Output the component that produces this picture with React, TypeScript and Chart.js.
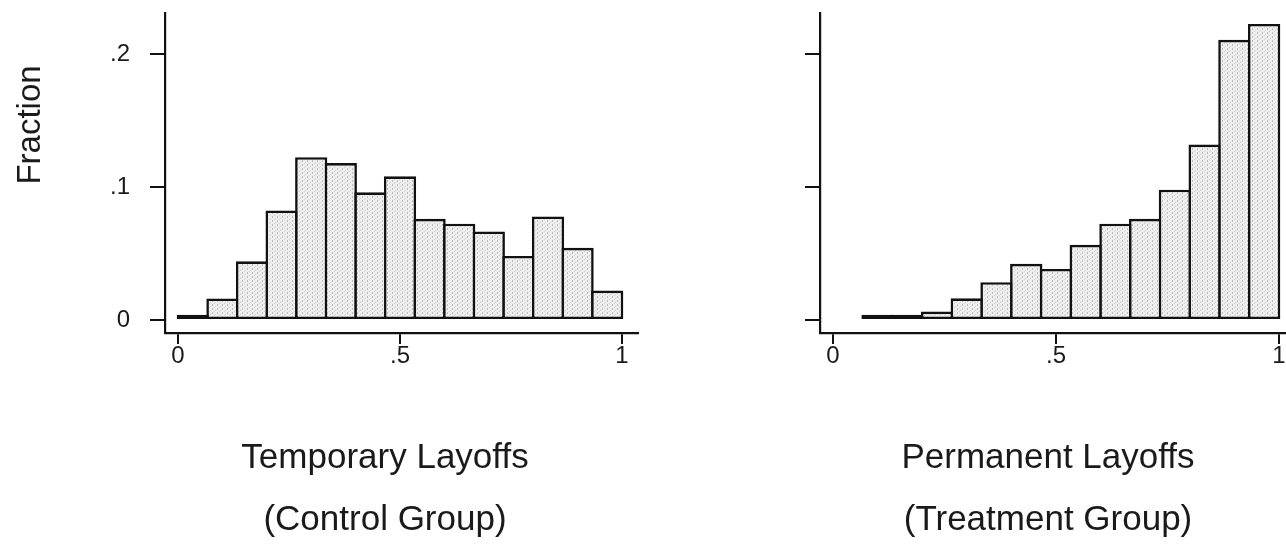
import React, { useEffect, useRef } from 'react';
import { Chart, registerables } from 'chart.js';

Chart.register(...registerables);

// ---- data ----
const binWidth = 1 / 15;
const binStarts = [0, 1 / 15, 2 / 15, 3 / 15, 4 / 15, 5 / 15, 6 / 15, 7 / 15, 8 / 15, 9 / 15, 10 / 15, 11 / 15, 12 / 15, 13 / 15, 14 / 15];
const temporaryFractions = [0.004, 0.0162, 0.0441, 0.0824, 0.1224, 0.118, 0.096, 0.108, 0.0761, 0.0724, 0.0666, 0.0482, 0.0779, 0.0543, 0.0221];
const permanentFractions = [null, 0.004, 0.004, 0.0063, 0.0163, 0.0284, 0.0422, 0.0384, 0.0565, 0.0724, 0.0761, 0.098, 0.1319, 0.2106, 0.2226];
const xTickValues = [0, 0.5, 1];
const yTickValues = [0, 0.1, 0.2];
const yAxisTitle = 'Fraction';
const leftTitle = ['Temporary Layoffs', '(Control Group)'];
const rightTitle = ['Permanent Layoffs', '(Treatment Group)'];

const TICK_FONT = '"Liberation Sans Narrow", "Arial Narrow", "Liberation Sans", Arial, sans-serif';
const TITLE_FONT = '"Liberation Sans", Arial, Helvetica, sans-serif';
const INK = '#111';
const TEXT = '#1a1a1a';

function formatTick(v: number): string {
  if (v === 0) return '0';
  if (v === 1) return '1';
  return String(Math.round(v * 100) / 100).replace(/^0\./, '.');
}

function makePattern(): CanvasPattern | string {
  const tile = document.createElement('canvas');
  tile.width = 5;
  tile.height = 4;
  const t = tile.getContext('2d');
  if (!t) return '#e6e6e6';
  t.fillStyle = '#eeeeee';
  t.fillRect(0, 0, 5, 4);
  t.fillStyle = '#bdbdbd';
  t.fillRect(2, 0, 1, 2);
  t.fillStyle = '#d4d4d4';
  t.fillRect(0, 2, 1, 1);
  t.fillRect(4, 3, 1, 1);
  const p = t.createPattern(tile, 'repeat');
  return p || '#e6e6e6';
}

const fractionLabel = {
  id: 'fractionLabel',
  afterDraw(chart: any, _args: any, opts: any) {
    if (!opts || !opts.show) return;
    const ctx = chart.ctx;
    ctx.save();
    ctx.translate(31, 125);
    ctx.rotate(-Math.PI / 2);
    ctx.font = `33px ${TITLE_FONT}`;
    ctx.fillStyle = TEXT;
    ctx.textAlign = 'center';
    ctx.textBaseline = 'middle';
    ctx.fillText(yAxisTitle, 0, 0);
    ctx.restore();
  },
};

interface PanelOpts {
  values: (number | null)[];
  title: string[];
  showYLabels: boolean;
  yAxisWidth: number;
  rightPad: number;
  xMin: number;
  xMax: number;
  pattern: CanvasPattern | string;
}

function buildConfig(p: PanelOpts): any {
  const points = binStarts
    .map((s, i) => ({ x: s + binWidth / 2, y: p.values[i] }))
    .filter((d) => d.y !== null && d.y !== undefined);
  return {
    type: 'bar',
    data: {
      datasets: [
        {
          data: points,
          xAxisID: 'x',
          yAxisID: 'y',
          backgroundColor: p.pattern,
          borderColor: INK,
          borderWidth: 2.6,
          borderSkipped: false,
          barPercentage: 1.088,
          categoryPercentage: 1,
        },
      ],
    },
    plugins: [fractionLabel],
    options: {
      animation: false,
      responsive: false,
      events: [],
      layout: { padding: { top: 13, left: 0, right: 0, bottom: 0 } },
      plugins: {
        legend: { display: false },
        tooltip: { enabled: false },
        fractionLabel: { show: p.showYLabels },
        title: {
          display: true,
          position: 'bottom',
          align: 'center',
          text: p.title,
          color: TEXT,
          font: { family: TITLE_FONT, size: 35, weight: 'normal', lineHeight: 62 / 35 },
          padding: { top: 0, bottom: 49 },
        },
      },
      scales: {
        x: {
          type: 'linear',
          position: 'bottom',
          min: p.xMin,
          max: p.xMax,
          offset: false,
          grid: {
            display: true,
            offset: false,
            drawOnChartArea: false,
            drawTicks: true,
            tickLength: 11,
            color: INK,
            lineWidth: 2,
          },
          border: { display: true, color: INK, width: 2.2 },
          ticks: {
            color: TEXT,
            padding: 0,
            maxRotation: 0,
            autoSkip: false,
            font: { family: TICK_FONT, size: 24, lineHeight: 1 },
            callback: (v: any) => formatTick(Number(v)),
          },
          afterBuildTicks: (s: any) => {
            s.ticks = xTickValues.map((value) => ({ value }));
          },
          afterFit: (s: any) => {
            s.height = 94;
            s.paddingLeft = 0;
            s.paddingRight = 0;
          },
        },
        y: {
          type: 'linear',
          position: 'left',
          min: -0.00977,
          max: 0.2308,
          grid: {
            display: true,
            drawOnChartArea: false,
            drawTicks: true,
            tickLength: 15,
            color: INK,
            lineWidth: 2,
          },
          border: { display: true, color: INK, width: 2.2 },
          ticks: {
            display: p.showYLabels,
            color: TEXT,
            padding: 20,
            autoSkip: false,
            font: { family: TICK_FONT, size: 24, lineHeight: 1 },
            callback: (v: any) => formatTick(Number(v)),
          },
          afterBuildTicks: (s: any) => {
            s.ticks = yTickValues.map((value) => ({ value }));
          },
          afterFit: (s: any) => {
            s.width = p.yAxisWidth;
            s.paddingTop = 0;
            s.paddingBottom = 0;
          },
        },
        pad: {
          type: 'linear',
          position: 'right',
          display: true,
          grid: { display: false },
          border: { display: false },
          ticks: { display: false },
          afterFit: (s: any) => {
            s.width = p.rightPad;
            s.paddingTop = 0;
            s.paddingBottom = 0;
          },
        },
      },
    },
  };
}

export default function App() {
  const leftRef = useRef<HTMLCanvasElement>(null);
  const rightRef = useRef<HTMLCanvasElement>(null);

  useEffect(() => {
    if (!leftRef.current || !rightRef.current) return;
    const pattern = makePattern();
    const left = new Chart(
      leftRef.current,
      buildConfig({
        values: temporaryFractions,
        title: leftTitle,
        showYLabels: true,
        yAxisWidth: 165,
        rightPad: 132,
        xMin: -0.0293,
        xMax: 1.036,
        pattern,
      })
    );
    const right = new Chart(
      rightRef.current,
      buildConfig({
        values: permanentFractions,
        title: rightTitle,
        showYLabels: false,
        yAxisWidth: 40,
        rightPad: 30,
        xMin: -0.0291,
        xMax: 1.0157,
        pattern,
      })
    );
    return () => {
      left.destroy();
      right.destroy();
    };
  }, []);

  return (
    <div
      style={{
        position: 'fixed',
        left: 0,
        top: 0,
        width: 1286,
        height: 544,
        overflow: 'hidden',
        background: '#fff',
      }}
    >
      <canvas ref={leftRef} width={770} height={600} style={{ position: 'absolute', left: 0, top: 0 }} />
      <canvas ref={rightRef} width={536} height={600} style={{ position: 'absolute', left: 780, top: 0 }} />
    </div>
  );
}
